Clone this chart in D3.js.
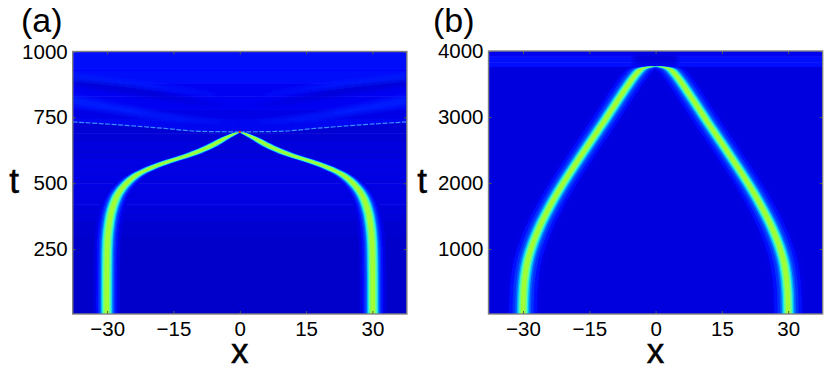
<!DOCTYPE html>
<html>
<head>
<meta charset="utf-8">
<script src="https://cdn.jsdelivr.net/npm/d3@7"></script>
<style>
  html, body { margin: 0; padding: 0; background: #fff; }
  svg { display: block; }
  text { font-family: "Liberation Sans", Arial, sans-serif; fill: #000; }
</style>
</head>
<body>
<svg width="830" height="384"></svg>
<script>
// values, right branch only (left one is its mirror)
const xTicks = [-30, -15, 0, 15, 30];
const tTicksA = [250, 500, 750, 1000];
const tTicksB = [1000, 2000, 3000, 4000];

// panel (a)
const ridgeTA = [0, 150, 285, 342, 386, 437, 475, 513, 542, 567, 589, 607, 633, 652, 675, 694];
const ridgeXA = [30.1, 30.1, 30, 29.6, 29.2, 28.3, 27, 25, 22.4, 18.9, 15.1, 11.3, 7.5, 5.3, 3, 0.4];
const coreWA = [1, 1, 1, 1, 1, 1, 1.02, 1.08, 1.2, 1.4, 1.55, 1.5, 1.4, 1.2, 1, 0.5];
const haloWA = [1, 1, 1, 1, 1, 1, 0.95, 0.9, 0.8, 0.8, 0.8, 0.8, 0.7, 0.6, 0.5, 0.3];
const scatterXA = [0, 9, 17, 26, 38];
const scatterTA = [695, 697, 708, 720, 733];
const rowTA = [0, 300, 370, 420, 500, 600, 690, 735, 780, 830, 880, 930, 1000];
const rowLevelA = [0.01, 0.012, 0.03, 0.04, 0.055, 0.04, 0.025, 0.03, 0.085, 0.07, 0.085, 0.1, 0.085];
const rippleTA = [365, 392, 418, 445, 470, 497, 525, 552, 580, 610, 632, 645, 656];
const fanXA = [38, 25, 15, 4];
const fanDarkTA = [890, 855, 825, 790];
const fanLightTA = [815, 775, 745, 735];
const fanLight2TA = [905, 880, 860, 830];

// panel (b)
const ridgeTB = [0, 30, 379, 632, 859, 1086, 1338, 1591, 1894, 2242, 2757, 3257, 3515, 3712, 3742, 3757, 3765];
const ridgeXB = [30, 30, 29.9, 29.5, 28.9, 27.8, 26.3, 24.4, 21.9, 18.6, 13.4, 8.5, 6, 3.7, 2.9, 1.5, 0];
const coreWB = [1, 1, 1, 1, 1, 1, 1, 1, 1, 1, 1, 1, 1, 1, 1, 0.95, 0.9];
const haloWB = [1, 1, 1, 1, 1, 1, 1, 1, 1, 1, 1, 1, 1, 1, 1, 0.95, 0.9];
const scatterXB = [0, 38];
const scatterTB = [3770, 3770];
const rowTB = [0, 3765, 3790, 3830, 3880, 3920, 3960, 4000];
const rowLevelB = [0.012, 0.08, 0.12, 0.09, 0.13, 0.09, 0.07, 0.07];
const fanXB = [0, 5];
const fanDarkTB = [3880, 3880];

const bandLevels = [0.05, 0.1, 0.17, 0.25, 0.34, 0.43, 0.52, 0.6];
const bandHalfA = [3.0, 2.4, 1.95, 1.6, 1.3, 1.1, 0.85, 0.5];
const bandHalfB = [4.1, 3.2, 2.4, 1.8, 1.4, 1.1, 0.85, 0.5];

// jet-like colour ramp
const jet = d3.scaleLinear()
  .domain([0, 0.1, 0.25, 0.38, 0.48, 0.6, 0.8, 1])
  .range(["#0000c4", "#0008ff", "#0060ff", "#00d8ff", "#50ffc0", "#a0ff30", "#ffc800", "#e00000"]);

const svg = d3.select("svg");
const defs = svg.append("defs");
defs.append("filter").attr("id", "soft").attr("x", "-5%").attr("y", "-5%").attr("width", "110%").attr("height", "110%")
  .append("feGaussianBlur").attr("stdDeviation", 0.7);
defs.append("filter").attr("id", "softer").attr("x", "-5%").attr("y", "-10%").attr("width", "110%").attr("height", "120%")
  .append("feGaussianBlur").attr("stdDeviation", 2.5);

function drawPanel(p) {
  const x = d3.scaleLinear().domain([-37.8, 37.8]).range([p.cx - 37.8 * 4.42, p.cx + 37.8 * 4.42]);
  const y = d3.scaleLinear().domain([0, p.tMax]).range([315, p.top]);
  const [x0, x1] = x.range();

  defs.append("clipPath").attr("id", "clip" + p.id)
    .append("rect").attr("x", x0).attr("y", p.top).attr("width", x1 - x0).attr("height", 314 - p.top);

  const g = svg.append("g").attr("clip-path", "url(#clip" + p.id + ")");

  // background rows
  const rows = g.append("g").attr("filter", "url(#soft)");
  const rowPairs = d3.pairs(p.rowT.map((t, i) => ({ t, v: p.rowLevel[i] })));
  rows.selectAll("rect").data(rowPairs).join("rect")
    .attr("x", x0 - 5).attr("width", x1 - x0 + 10)
    .attr("y", d => y(d[1].t))
    .attr("height", d => y(d[0].t) - y(d[1].t) + 0.5)
    .attr("fill", d => jet((d[0].v + d[1].v) / 2));

  // faint ripples under the collision in (a)
  if (p.rippleT) {
    g.append("g").attr("filter", "url(#soft)").selectAll("rect").data(p.rippleT).join("rect")
      .attr("x", x0).attr("width", x1 - x0)
      .attr("y", d => y(d)).attr("height", 1.2)
      .attr("fill", jet(0.085)).attr("opacity", 0.55);
  }

  // brighter field just above the scattered wave
  if (p.scatterFillTo) {
    const fill = d3.area().x(d => x(d.x)).y0(d => y(d.t)).y1(y(p.scatterFillTo)).curve(d3.curveMonotoneX);
    [-1, 1].forEach(side => {
      const line = p.scatterX.map((v, i) => ({ x: v * side, t: p.scatterT[i] }));
      g.append("path").attr("d", fill(line)).attr("fill", jet(0.075));
    });
  }

  // radiation fans above the collision, thinning toward the middle
  if (p.fans) {
    const fanG = g.append("g").attr("filter", "url(#softer)");
    p.fans.forEach(f => {
      [-1, 1].forEach(side => {
        const pts = f.x.map((v, i) => ({ x: v * side, t: f.t[i], h: f.half[i] }));
        const band = d3.area().x(d => x(d.x)).y0(d => y(d.t - d.h)).y1(d => y(d.t + d.h)).curve(d3.curveBasis);
        fanG.append("path").attr("d", band(pts)).attr("fill", jet(f.level));
      });
    });
  }

  // ridge, stacked from the halo to the core
  const pts = p.ridgeT.map((t, i) => ({ t, x: p.ridgeX[i], core: p.coreW[i], halo: p.haloW[i] }));
  const ridge = g.append("g").attr("filter", "url(#soft)");
  bandLevels.forEach((lev, k) => {
    const mix = k / (bandLevels.length - 1);
    const half = d => p.half[k] * (d.halo + (d.core - d.halo) * mix);
    [-1, 1].forEach(side => {
      const band = d3.area()
        .x0(d => x(side * d.x - half(d)))
        .x1(d => x(side * d.x + half(d)))
        .y(d => y(d.t))
        .curve(d3.curveBasis);
      ridge.append("path").attr("d", band(pts)).attr("fill", jet(lev));
    });
  });

  // thin scattered wave
  const scat = d3.line().x(d => x(d.x)).y(d => y(d.t)).curve(d3.curveMonotoneX);
  const scatG = g.append("g").attr("filter", "url(#soft)");
  [-1, 1].forEach(side => {
    const line = p.scatterX.map((v, i) => ({ x: v * side, t: p.scatterT[i] }));
    scatG.append("path").attr("d", scat(line)).attr("fill", "none")
      .attr("stroke", p.scatterColor).attr("stroke-width", 1.2)
      .attr("stroke-dasharray", "5 1.5");
  });
  if (p.apexHot) {
    g.append("circle").attr("cx", x(0)).attr("cy", y(p.scatterT[0])).attr("r", 1.2)
      .attr("fill", jet(0.95));
  }

  // axes
  const fmt = d => String(d).replace("-", "\u2212");
  const axB = svg.append("g").attr("transform", "translate(0,314)")
    .call(d3.axisBottom(x).tickValues(xTicks).tickSize(-3).tickPadding(7).tickFormat(fmt));
  svg.append("g").attr("transform", "translate(0," + p.top + ")")
    .call(d3.axisTop(x).tickValues(xTicks).tickSize(-3).tickFormat(""));
  const axL = svg.append("g").attr("transform", "translate(" + x0 + ",0)")
    .call(d3.axisLeft(y).tickValues(p.tTicks).tickSize(-3).tickPadding(5).tickFormat(d3.format("d")));
  svg.append("g").attr("transform", "translate(" + x1 + ",0)")
    .call(d3.axisRight(y).tickValues(p.tTicks).tickSize(-3).tickFormat(""));
  svg.selectAll(".domain").remove();
  svg.selectAll(".tick line").attr("stroke", "#555");
  axB.selectAll("text").attr("font-size", 20.5).attr("dy", "0.71em");
  axL.selectAll("text").attr("font-size", 20.5);

  // frame
  svg.append("rect").attr("x", x0).attr("y", p.top).attr("width", x1 - x0).attr("height", 314 - p.top)
    .attr("fill", "none").attr("stroke", "#808080").attr("stroke-width", 1.4);

  // labels
  svg.append("text").attr("x", p.tagX).attr("y", 32).attr("font-size", 34).text(p.tag);
  svg.append("text").attr("x", p.tX).attr("y", 193).attr("font-size", 35)
    .attr("text-anchor", "middle").attr("stroke", "#000").attr("stroke-width", 0.5).text("t");
  svg.append("text").attr("x", p.cx).attr("y", 363).attr("font-size", 35)
    .attr("text-anchor", "middle").attr("stroke", "#000").attr("stroke-width", 0.5).text("x");
}

drawPanel({
  id: "a", tag: "(a)", tagX: 21, tX: 14, cx: 239.8, top: 51.5, tMax: 1000, tTicks: tTicksA,
  ridgeT: ridgeTA, ridgeX: ridgeXA, coreW: coreWA, haloW: haloWA, half: bandHalfA,
  rowT: rowTA, rowLevel: rowLevelA, rippleT: rippleTA,
  scatterX: scatterXA, scatterT: scatterTA, scatterColor: "#3c8cff", scatterFillTo: 745, apexHot: true,
  fans: [
    { x: fanXA, t: fanDarkTA, half: [16, 14, 11, 2], level: 0.03 },
    { x: fanXA, t: fanLightTA, half: [20, 16, 10, 2], level: 0.14 },
    { x: fanXA, t: fanLight2TA, half: [10, 9, 7, 2], level: 0.13 }
  ]
});

drawPanel({
  id: "b", tag: "(b)", tagX: 433, tX: 422, cx: 655.6, top: 51, tMax: 4000, tTicks: tTicksB,
  ridgeT: ridgeTB, ridgeX: ridgeXB, coreW: coreWB, haloW: haloWB, half: bandHalfB,
  rowT: rowTB, rowLevel: rowLevelB,
  scatterX: scatterXB, scatterT: scatterTB, scatterColor: "#1a50ff",
  fans: [{ x: fanXB, t: fanDarkTB, half: [90, 90], level: 0.04 }]
});
</script>
</body>
</html>
